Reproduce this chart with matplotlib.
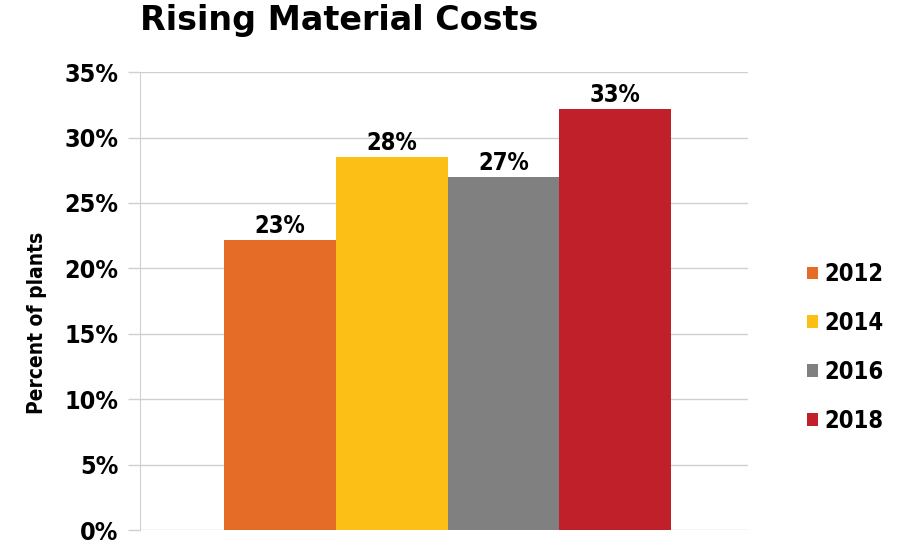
import matplotlib
matplotlib.use("Agg")
import matplotlib.pyplot as plt
from matplotlib import font_manager as fm

years = ["2012", "2014", "2016", "2018"]
bar_values = [22.2, 28.5, 27.0, 32.2]      # heights as drawn
bar_labels = ["23%", "28%", "27%", "33%"]  # printed labels
colors = ["#e46c26", "#fcbf16", "#808080", "#c0202a"]
y_ticks = [0, 5, 10, 15, 20, 25, 30, 35]

# look for a condensed bold face among installed fonts
fonts = fm.fontManager.ttflist
cond = [f for f in fonts
        if ("Narrow" in f.name or "Condensed" in f.name or "Condensed" in f.fname
            or f.stretch in ("condensed", "semi-condensed", "extra-condensed"))
        and (f.weight in ("bold", 700) or "Bold" in f.fname) and "Oblique" not in f.fname
        and "Italic" not in f.fname]
if cond:
    cond_fp = lambda size: fm.FontProperties(fname=cond[0].fname, size=size)
else:
    cond_fp = lambda size: fm.FontProperties(family="DejaVu Sans", weight="bold", size=size)

title_fp = fm.FontProperties(family="DejaVu Sans", weight="bold", size=24)

fig = plt.figure(figsize=(9, 5.5), dpi=100)
ax = fig.add_axes([0.156, 0.036, 0.675, 0.833])

x = list(range(len(years)))
for i in x:
    ax.bar(i, bar_values[i], width=1.0, color=colors[i], label=years[i], zorder=3)
    ax.text(i, bar_values[i] + 0.15, bar_labels[i], ha="center", va="bottom",
            fontproperties=cond_fp(17), zorder=4)

ax.set_xlim(-1.25, 4.19)
ax.set_ylim(0, 35)
ax.set_yticks(y_ticks)
ax.set_yticklabels([f"{t}%" for t in y_ticks])
for lab in ax.get_yticklabels():
    lab.set_fontproperties(cond_fp(18))
ax.set_xticks([])
ax.grid(axis="y", color="#d0d0d0", linewidth=1, zorder=0)
ax.tick_params(axis="y", length=8.6, color="#d0d0d0", width=1, pad=7)
for s in ["top", "right", "bottom"]:
    ax.spines[s].set_visible(False)
ax.spines["left"].set_color("#d0d0d0")

ax.set_ylabel("Percent of plants", fontproperties=cond_fp(15))
ax.yaxis.set_label_coords(-0.153, 0.452)

fig.text(0.156, 0.962, "Rising Material Costs", fontproperties=title_fp,
         va="center", ha="left")

fig.legend(loc="center left", bbox_to_anchor=(0.884, 0.368), frameon=False,
           prop=cond_fp(17), handlelength=0.45, handleheight=0.45, borderpad=0,
           handletextpad=0.25, labelspacing=1.05)

fig.savefig("out.png", dpi=100)
